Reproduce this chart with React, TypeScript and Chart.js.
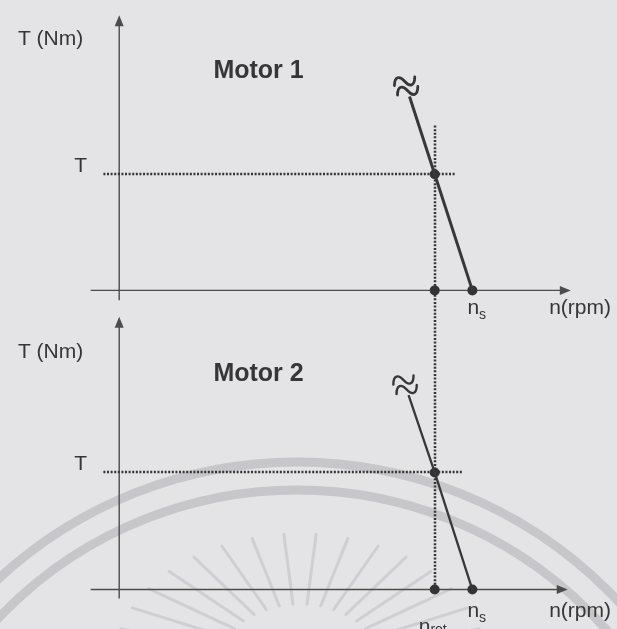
import React, { useEffect, useRef } from "react";
import { Chart, registerables } from "chart.js";

Chart.register(...registerables);

// ---- diagram values (speed in rpm, torque in Nm) ----
const syncSpeed = [1500, 1500]; // n_s of motor 1 and motor 2
const ratedSpeed = [1340, 1340]; // operating speed at the load torque
const loadTorque = [100, 100]; // load torque T
const motor1Curve = [
  { x: 1233, y: 167 },
  { x: 1340, y: 100 },
  { x: 1500, y: 0 },
];
const motor2Curve = [
  { x: 1229, y: 166 },
  { x: 1340, y: 100 },
  { x: 1500, y: 0 },
];
const motorNames = ["Motor 1", "Motor 2"];
const torqueAxisTitle = "T (Nm)";
const speedAxisTitle = "n(rpm)";
const loadTickLabel = "T";

// ---- layout ----
const W = 617;
const H = 629;
const X_RANGE = [-485, 2093];
const Y_RANGES = [
  [-287.3, 245.8],
  [-29.4, 499.2],
];
const AXIS_EXTENT = [
  { nFrom: -121, nTo: 1918, tFrom: -8.5, tTo: 237 },
  { nFrom: -121, nTo: 1905, tFrom: -7.6, tTo: 233 },
];
const GUIDE_END = [1429, 1458];
const GUIDE_START = -67;
const GUIDE_TOP = 142;
const TITLE_POS = [
  { n: 400, t: 189 },
  { n: 400, t: 184 },
];
const TORQUE_TITLE_T = [216, 202.5];
const SPEED_TITLE_N = 1826;
const BOTTOM_LABEL_DY = [18, 22];

const FONT = '"Liberation Sans", Arial, Helvetica, sans-serif';
const INK = "#363636";
const AXIS_INK = "#4c4c4c";

const yIds = ["y1", "y2"];
const curves = [motor1Curve, motor2Curve];

function markedPoints(i: number) {
  return [
    { x: ratedSpeed[i], y: loadTorque[i] },
    { x: ratedSpeed[i], y: 0 },
    { x: syncSpeed[i], y: 0 },
  ];
}

function arrowHead(ctx: CanvasRenderingContext2D, x: number, y: number, dir: "up" | "right") {
  const len = 11;
  const half = 4.5;
  ctx.beginPath();
  if (dir === "up") {
    ctx.moveTo(x, y);
    ctx.lineTo(x - half, y + len);
    ctx.lineTo(x + half, y + len);
  } else {
    ctx.moveTo(x, y);
    ctx.lineTo(x - len, y - half);
    ctx.lineTo(x - len, y + half);
  }
  ctx.closePath();
  ctx.fill();
}

function breakMark(ctx: CanvasRenderingContext2D, cx: number, cy: number, angle: number, lw: number) {
  ctx.save();
  ctx.translate(cx, cy);
  ctx.rotate(angle);
  ctx.lineWidth = lw;
  ctx.strokeStyle = INK;
  ctx.lineCap = "round";
  for (const o of [-5, 5]) {
    ctx.beginPath();
    ctx.moveTo(-11, o + 1);
    ctx.bezierCurveTo(-8, o - 8, -3, o - 7, 0, o);
    ctx.bezierCurveTo(3, o + 7, 8, o + 8, 11, o - 1);
    ctx.stroke();
  }
  ctx.restore();
}

function subscriptLabel(
  ctx: CanvasRenderingContext2D,
  base: string,
  sub: string,
  x: number,
  y: number,
  baseline: CanvasTextBaseline
) {
  ctx.textAlign = "left";
  ctx.textBaseline = baseline;
  ctx.font = `21px ${FONT}`;
  ctx.fillText(base, x, y);
  const w = ctx.measureText(base).width;
  ctx.font = `14px ${FONT}`;
  ctx.fillText(sub, x + w, y + 7);
}

const diagramPlugin = {
  id: "diagram",
  beforeDraw(chart: any) {
    const ctx: CanvasRenderingContext2D = chart.ctx;
    ctx.save();
    ctx.fillStyle = "#e4e4e6";
    ctx.fillRect(0, 0, chart.width, chart.height);

    // faint emblem printed behind the lower diagram
    ctx.strokeStyle = "rgba(170,170,176,0.5)";
    ctx.lineWidth = 9;
    for (const r of [440, 412]) {
      ctx.beginPath();
      ctx.arc(297, 902, r, Math.PI, 2 * Math.PI);
      ctx.stroke();
    }
    ctx.strokeStyle = "rgba(165,165,172,0.32)";
    ctx.lineCap = "round";
    const cx = 300;
    const cy = 662;
    for (let deg = 15; deg <= 165; deg += 10) {
      const a = (deg * Math.PI) / 180;
      const ox = cx + 185 * Math.cos(a);
      const oy = cy - 128 * Math.sin(a);
      const ix = cx + 80 * Math.cos(a);
      const iy = cy - 58 * Math.sin(a);
      ctx.lineWidth = 3;
      ctx.beginPath();
      ctx.moveTo(ix, iy);
      ctx.lineTo(ox, oy);
      ctx.stroke();
    }
    ctx.restore();
  },
  beforeDatasetsDraw(chart: any) {
    const ctx: CanvasRenderingContext2D = chart.ctx;
    const xs = chart.scales.x;
    ctx.save();
    yIds.forEach((id, i) => {
      const ys = chart.scales[id];
      const ext = AXIS_EXTENT[i];
      const ax = xs.getPixelForValue(0);
      const ay = ys.getPixelForValue(0);
      ctx.strokeStyle = AXIS_INK;
      ctx.fillStyle = AXIS_INK;
      ctx.lineWidth = 1.4;
      ctx.setLineDash([]);
      // torque axis
      const tTop = ys.getPixelForValue(ext.tTo);
      ctx.beginPath();
      ctx.moveTo(ax, ys.getPixelForValue(ext.tFrom));
      ctx.lineTo(ax, tTop + 9);
      ctx.stroke();
      arrowHead(ctx, ax, tTop, "up");
      // speed axis
      const nEnd = xs.getPixelForValue(ext.nTo);
      ctx.beginPath();
      ctx.moveTo(xs.getPixelForValue(ext.nFrom), ay);
      ctx.lineTo(nEnd - 9, ay);
      ctx.stroke();
      arrowHead(ctx, nEnd, ay, "right");

      // dotted load-torque guide
      ctx.strokeStyle = "#343434";
      ctx.lineWidth = 2.5;
      ctx.setLineDash([2, 1.6]);
      const gy = Math.round(ys.getPixelForValue(loadTorque[i]));
      ctx.beginPath();
      ctx.moveTo(xs.getPixelForValue(GUIDE_START), gy);
      ctx.lineTo(xs.getPixelForValue(GUIDE_END[i]), gy);
      ctx.stroke();
    });
    // dotted rated-speed guide running through both diagrams
    const gx = Math.round(xs.getPixelForValue(ratedSpeed[0]));
    ctx.beginPath();
    ctx.moveTo(gx, chart.scales.y1.getPixelForValue(GUIDE_TOP));
    ctx.lineTo(gx, chart.scales.y2.getPixelForValue(0));
    ctx.stroke();
    ctx.restore();
  },
  afterDatasetsDraw(chart: any) {
    const ctx: CanvasRenderingContext2D = chart.ctx;
    const xs = chart.scales.x;
    ctx.save();
    ctx.fillStyle = INK;
    yIds.forEach((id, i) => {
      const ys = chart.scales[id];
      const ax = xs.getPixelForValue(0);
      const ay = ys.getPixelForValue(0);

      // break mark at the open end of the curve
      const c = curves[i];
      const p0x = xs.getPixelForValue(c[0].x);
      const p0y = ys.getPixelForValue(c[0].y);
      const p1x = xs.getPixelForValue(c[1].x);
      const p1y = ys.getPixelForValue(c[1].y);
      const dx = p0x - p1x;
      const dy = p0y - p1y;
      const len = Math.hypot(dx, dy);
      const ux = dx / len;
      const uy = dy / len;
      const ang = Math.atan2(dy, dx) + Math.PI / 2;
      breakMark(ctx, p0x + ux * 11, p0y + uy * 11, ang + Math.PI, i === 0 ? 2.8 : 2.4);

      ctx.fillStyle = INK;
      // torque axis title
      ctx.font = `21px ${FONT}`;
      ctx.textAlign = "right";
      ctx.textBaseline = "middle";
      ctx.fillText(torqueAxisTitle, ax - 36, ys.getPixelForValue(TORQUE_TITLE_T[i]));
      // load torque tick label
      ctx.fillText(loadTickLabel, ax - 32, ys.getPixelForValue(loadTorque[i]) - 8);
      // motor name
      ctx.font = `bold 25px ${FONT}`;
      ctx.textAlign = "left";
      ctx.fillText(
        motorNames[i],
        xs.getPixelForValue(TITLE_POS[i].n),
        ys.getPixelForValue(TITLE_POS[i].t)
      );
      // speed axis title
      ctx.font = `21px ${FONT}`;
      ctx.fillText(speedAxisTitle, xs.getPixelForValue(SPEED_TITLE_N), ay + BOTTOM_LABEL_DY[i]);
      // synchronous speed label
      subscriptLabel(ctx, "n", "s", xs.getPixelForValue(syncSpeed[i]) - 5, ay + BOTTOM_LABEL_DY[i], "middle");
    });
    // rated speed label under the lower diagram
    const ay2 = chart.scales.y2.getPixelForValue(0);
    subscriptLabel(ctx, "n", "rot", xs.getPixelForValue(ratedSpeed[1]) - 16, ay2 + 27, "top");
    ctx.restore();
  },
};

export default function App() {
  const canvasRef = useRef<HTMLCanvasElement | null>(null);

  useEffect(() => {
    const canvas = canvasRef.current;
    if (!canvas) return;
    const datasets: any[] = [];
    yIds.forEach((id, i) => {
      datasets.push({
        type: "line",
        label: motorNames[i],
        data: curves[i],
        yAxisID: id,
        borderColor: "#383838",
        borderWidth: i === 0 ? 3 : 2.3,
        pointRadius: 0,
        fill: false,
        tension: 0,
      });
      datasets.push({
        type: "scatter",
        label: `${motorNames[i]} points`,
        data: markedPoints(i),
        yAxisID: id,
        pointRadius: 5,
        pointBackgroundColor: "#333333",
        pointBorderWidth: 0,
      });
    });
    const chart = new Chart(canvas, {
      type: "scatter",
      data: { datasets },
      options: {
        animation: false,
        responsive: false,
        maintainAspectRatio: false,
        devicePixelRatio: 1,
        layout: { padding: 0 },
        plugins: { legend: { display: false }, tooltip: { enabled: false } },
        scales: {
          x: { type: "linear", display: false, min: X_RANGE[0], max: X_RANGE[1] },
          y1: { type: "linear", display: false, min: Y_RANGES[0][0], max: Y_RANGES[0][1] },
          y2: { type: "linear", display: false, min: Y_RANGES[1][0], max: Y_RANGES[1][1] },
        },
      },
      plugins: [diagramPlugin],
    });
    return () => chart.destroy();
  }, []);

  return (
    <div
      style={{
        position: "fixed",
        left: 0,
        top: 0,
        width: W,
        height: H,
        overflow: "hidden",
        background: "#e4e4e6",
      }}
    >
      <canvas ref={canvasRef} width={W} height={H} style={{ display: "block", width: W, height: H }} />
    </div>
  );
}
